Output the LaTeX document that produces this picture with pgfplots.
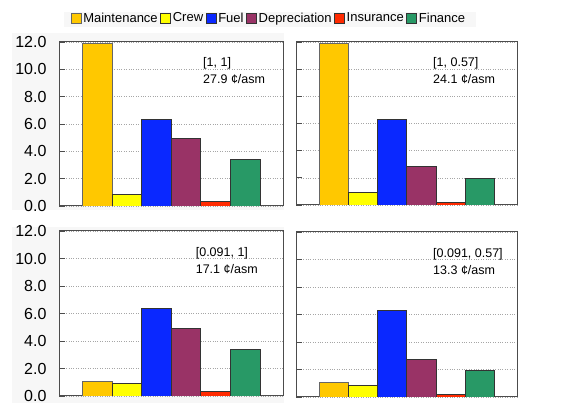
\documentclass[border=0pt]{standalone}
\usepackage{pgfplots}
\pgfplotsset{compat=1.18}
\usepackage{fontspec}
\setmainfont{Liberation Sans}

\definecolor{cMaint}{HTML}{FFC800}
\definecolor{cCrew}{HTML}{FFFF00}
\definecolor{cFuel}{HTML}{0A28FF}
\definecolor{cDep}{HTML}{993366}
\definecolor{cIns}{HTML}{FF2A00}
\definecolor{cFin}{HTML}{289966}
\definecolor{panelbg}{HTML}{F7F7F7}

% one bar per cost item, placed at x = 0..5
\newcommand{\costbars}[6]{%
  \addplot[fill=cMaint, draw=black!60] coordinates {(0,#1)};
  \addplot[fill=cCrew,  draw=black!80] coordinates {(1,#2)};
  \addplot[fill=cFuel,  draw=black!80] coordinates {(2,#3)};
  \addplot[fill=cDep,   draw=black!80] coordinates {(3,#4)};
  \addplot[fill=cIns,   draw=black!80] coordinates {(4,#5)};
  \addplot[fill=cFin,   draw=black!80] coordinates {(5,#6)};
}
\newcommand{\notefont}{\fontsize{12.5}{17}\selectfont}

\pgfplotsset{
  costpanel/.style={
    scale only axis,
    anchor=south west,
    ybar, bar shift=0pt, bar width=1,
    xmin=-1.28, xmax=6.28,
    ymin=0, ymax=12,
    ytick={0,2,...,12},
    xtick=\empty,
    ytick pos=left,
    tick align=inside,
    major tick length=6pt,
    major tick style={black!70, line width=0.8pt},
    axis line style={black!70, line width=1pt},
    ymajorgrids,
    grid style={dotted, black!35, line width=0.6pt},
    axis background/.style={fill=white},
    /pgf/number format/.cd, fixed, fixed zerofill, precision=1, assume math mode=true,
    /pgfplots/.cd,
    yticklabel style={font=\fontsize{16}{16}\selectfont, xshift=-9pt},
  },
  nolabels/.style={yticklabels={}},
}

\begin{document}
\begin{tikzpicture}[x=1pt,y=1pt]
\useasboundingbox (0,0) rectangle (563,403);
% light panels behind the left column and the legend
\fill[panelbg] (12,193) rectangle (284,370);
\fill[panelbg] (12,0) rectangle (284,176);
\fill[panelbg] (64,376) rectangle (476,391);

% top left
\begin{axis}[costpanel, at={(59pt,197pt)}, width=224pt, height=164pt,
  legend columns=6,
  legend style={at={(0.935,1.146)}, anchor=center, draw=none, fill=none,
    inner sep=0pt, outer sep=0pt, column sep=0pt,
    nodes={inner sep=1pt, font=\fontsize{13}{13}\selectfont},
    /tikz/every odd column/.append style={column sep=1pt},
    /tikz/every even column/.append style={column sep=1.5pt}},
  legend image code/.code={\draw[#1, line width=0.6pt] (0pt,-5pt) rectangle (10pt,5pt);},
  ]
\costbars{11.9}{0.86}{6.33}{4.93}{0.34}{3.39}
\legend{Maintenance, Crew, Fuel, Depreciation, Insurance, Finance}
\node[anchor=north west, align=left, inner sep=0pt, font=\notefont] at (rel axis cs:0.643,0.905) {[1, 1]\\27.9 ¢/asm};
\end{axis}

% top right
\begin{axis}[costpanel, nolabels, at={(296pt,198pt)}, width=221pt, height=163pt]
\costbars{11.9}{0.95}{6.35}{2.83}{0.22}{1.95}
\node[anchor=north west, align=left, inner sep=0pt, font=\notefont] at (rel axis cs:0.62,0.905) {[1, 0.57]\\24.1 ¢/asm};
\end{axis}

% bottom left
\begin{axis}[costpanel, at={(59pt,7pt)}, width=224pt, height=165pt]
\costbars{1.09}{0.93}{6.35}{4.95}{0.36}{3.4}
\node[anchor=north west, align=left, inner sep=0pt, font=\notefont] at (rel axis cs:0.61,0.9) {[0.091, 1]\\17.1 ¢/asm};
\end{axis}

% bottom right
\begin{axis}[costpanel, nolabels, at={(296pt,6pt)}, width=221pt, height=165pt]
\costbars{1.05}{0.88}{6.28}{2.78}{0.2}{1.93}
\node[anchor=north west, align=left, inner sep=0pt, font=\notefont] at (rel axis cs:0.62,0.9) {[0.091, 0.57]\\13.3 ¢/asm};
\end{axis}
\end{tikzpicture}
\end{document}
